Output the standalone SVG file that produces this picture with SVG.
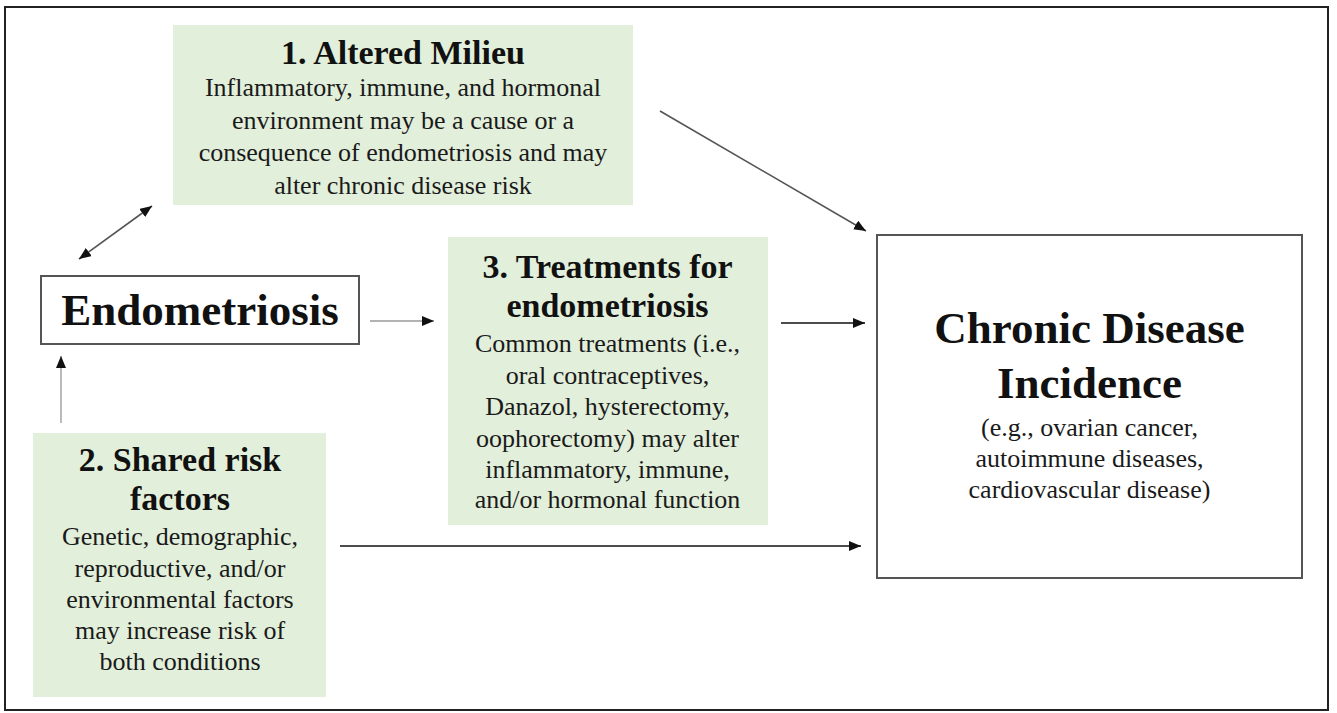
<svg xmlns="http://www.w3.org/2000/svg" width="1337" height="713" viewBox="0 0 1337 713">
<style>
.t{font-family:"Liberation Serif","Times New Roman",serif;text-anchor:middle;fill:#111}
.ttl{font-weight:bold;font-size:34px}
.big{font-weight:bold;font-size:45px}
.body{font-size:26px;fill:#1a1a1a}
.g{fill:#e2efda}
.wb{fill:#fff;stroke:#555;stroke-width:2}
.c{fill:none;stroke-width:1.6}
</style>
<defs>
<marker id="ah" markerUnits="userSpaceOnUse" markerWidth="14" markerHeight="12" refX="12" refY="5" orient="auto-start-reverse">
<path d="M0,0 L12,5 L0,10 Z" fill="#111"/>
</marker>
</defs>
<rect x="5" y="7" width="1323" height="703" fill="#fff" stroke="#222" stroke-width="2"/>
<g id="connectors">
<line class="c" x1="79" y1="259" x2="152" y2="206" stroke="#555" marker-start="url(#ah)" marker-end="url(#ah)"/>
<line class="c" x1="61" y1="423" x2="61" y2="356" stroke="#aaa" marker-end="url(#ah)"/>
<line class="c" x1="370" y1="321" x2="434" y2="321" stroke="#999" marker-end="url(#ah)"/>
<line class="c" x1="781" y1="323" x2="865" y2="323" stroke="#111" marker-end="url(#ah)"/>
<line class="c" x1="660" y1="111" x2="866" y2="231" stroke="#555" marker-end="url(#ah)"/>
<line class="c" x1="340" y1="546" x2="861" y2="546" stroke="#111" marker-end="url(#ah)"/>
</g>
<g id="milieu">
<rect class="g" x="173" y="25" width="460" height="180"/>
<text class="t ttl" x="403" y="64">1. Altered Milieu</text>
<text class="t body" x="403" y="96">Inflammatory, immune, and hormonal</text>
<text class="t body" x="403" y="128.5">environment may be a cause or a</text>
<text class="t body" x="403" y="161">consequence of endometriosis and may</text>
<text class="t body" x="403" y="193.5">alter chronic disease risk</text>
</g>
<g id="endometriosis">
<rect class="wb" x="41" y="276" width="318" height="68"/>
<text class="t big" x="200" y="325">Endometriosis</text>
</g>
<g id="shared">
<rect class="g" x="33" y="433" width="293" height="264"/>
<text class="t ttl" x="180" y="471">2. Shared risk</text>
<text class="t ttl" x="180" y="510">factors</text>
<text class="t body" x="180" y="545">Genetic, demographic,</text>
<text class="t body" x="180" y="576.5">reproductive, and/or</text>
<text class="t body" x="180" y="608">environmental factors</text>
<text class="t body" x="180" y="639">may increase risk of</text>
<text class="t body" x="180" y="670">both conditions</text>
</g>
<g id="treatments">
<rect class="g" x="448" y="237" width="320" height="288"/>
<text class="t ttl" x="607.5" y="278">3. Treatments for</text>
<text class="t ttl" x="607.5" y="317">endometriosis</text>
<text class="t body" x="607.5" y="352">Common treatments (i.e.,</text>
<text class="t body" x="607.5" y="383.5">oral contraceptives,</text>
<text class="t body" x="607.5" y="415">Danazol, hysterectomy,</text>
<text class="t body" x="607.5" y="446.5">oophorectomy) may alter</text>
<text class="t body" x="607.5" y="478">inflammatory, immune,</text>
<text class="t body" x="607.5" y="508">and/or hormonal function</text>
</g>
<g id="chronic">
<rect class="wb" x="877" y="235" width="425" height="343"/>
<text class="t big" x="1089.5" y="343">Chronic Disease</text>
<text class="t big" x="1089.5" y="398">Incidence</text>
<text class="t body" x="1089.5" y="436">(e.g., ovarian cancer,</text>
<text class="t body" x="1089.5" y="467">autoimmune diseases,</text>
<text class="t body" x="1089.5" y="498">cardiovascular disease)</text>
</g>
</svg>
